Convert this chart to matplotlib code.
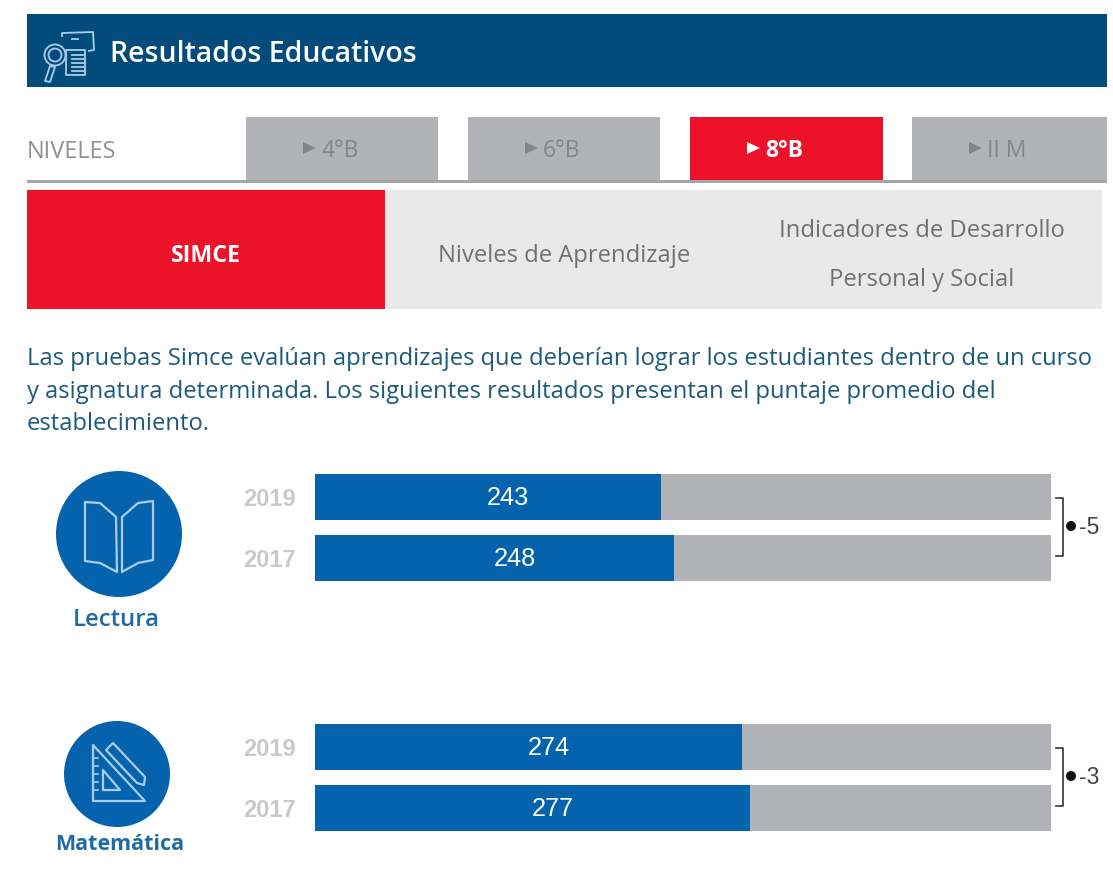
import matplotlib
matplotlib.use("Agg")
import matplotlib.pyplot as plt
from matplotlib.patches import Circle, Polygon, Rectangle

W, H = 1113, 882

# data
subjects = ["Lectura", "Matemática"]
years = ["2019", "2017"]
lectura = [243, 248]
matematica = [274, 277]
deltas = ["-5", "-3"]
scale_min = 110.5
scale_max = 392.5

niveles = ["4°B", "6°B", "8°B", "II M"]
tabs = ["SIMCE", "Niveles de Aprendizaje", "Indicadores de Desarrollo\nPersonal y Social"]
parrafo = [
    "Las pruebas Simce evalúan aprendizajes que deberían lograr los estudiantes dentro de un curso",
    "y asignatura determinada. Los siguientes resultados presentan el puntaje promedio del",
    "establecimiento.",
]

NAVY = "#024b7b"
RED = "#ec1229"
GREY = "#b2b3b7"
LIGHT = "#e9e9e9"
BLUE = "#0563ae"
ICON = "#a9cde6"
TXT = ["Open Sans", "DejaVu Sans"]

fig = plt.figure(figsize=(W / 100, H / 100), dpi=100, facecolor="white")

# whole figure in pixels for the page furniture
bg = fig.add_axes([0, 0, 1, 1])
bg.set_xlim(0, W)
bg.set_ylim(H, 0)
bg.axis("off")


def box(x0, y0, x1, y1, color):
    bg.add_patch(Rectangle((x0, y0), x1 - x0, y1 - y0, fc=color, ec="none"))


def outline(pts, color=ICON, lw=1.6, closed=True):
    bg.add_patch(Polygon(pts, closed=closed, fc="none", ec=color, lw=lw, joinstyle="round"))


# header
box(27, 14, 1107, 87, NAVY)
bg.text(110, 54, "Resultados Educativos", color="white", fontsize=20.5, family=TXT,
        weight="semibold", va="center", ha="left")
outline([(62, 37), (62, 33), (93, 32), (94, 50), (88, 51)], lw=1.3, closed=False)
bg.plot([72, 78], [38.5, 38.5], color=ICON, lw=1.3)
bg.add_patch(Circle((55, 55), 10.5, fc="none", ec=ICON, lw=1.3))
bg.add_patch(Circle((55, 55), 6.5, fc="none", ec=ICON, lw=1.3))
outline([(50, 66), (45, 81), (50, 82), (55, 67)], lw=1.3)
outline([(66, 50), (85, 50), (85, 75), (66, 75)], lw=1.3)
for yy in [55, 59, 63, 67, 71]:
    bg.plot([72, 84], [yy, yy], color=ICON, lw=1.3)

# niveles row
bg.text(27, 152, "NIVELES", color="#8f9093", fontsize=17, family=TXT, va="center")
box(27, 180, 1107, 183, "#a5a6a8")
tab_x = [(246, 438), (468, 660), (690, 883), (912, 1107)]
for name, (x0, x1) in zip(niveles, tab_x):
    sel = name == "8°B"
    col = "white" if sel else "#848589"
    box(x0, 117, x1, 180, RED if sel else GREY)
    bg.add_patch(Polygon([(x0 + 57, 142), (x0 + 70, 148), (x0 + 57, 154)], fc=col, ec="none"))
    bg.text(x0 + 75, 151, name, color=col, fontsize=16.5, family=TXT,
            weight="bold" if sel else "normal", ha="left", va="center")

# SIMCE tabs
box(385, 190, 1102, 309, LIGHT)
box(27, 190, 385, 309, RED)
bg.text(206, 256, tabs[0], color="white", fontsize=16.7, family=TXT, weight="bold",
        ha="center", va="center")
bg.text(564, 256, tabs[1], color="#6f7073", fontsize=17.1, family=TXT, ha="center", va="center")
top, bottom = tabs[2].split("\n")
bg.text(922, 231, top, color="#6f7073", fontsize=17.1, family=TXT, ha="center", va="center")
bg.text(922, 280, bottom, color="#6f7073", fontsize=17.1, family=TXT, ha="center", va="center")

# paragraph
for yy, line in zip([359, 392, 424], parrafo):
    bg.text(27, yy, line, color="#1c5a7c", fontsize=17.1, family=TXT, va="center")

# book icon
bg.add_patch(Circle((119, 534), 63, fc=BLUE, ec="none"))
outline([(85, 502), (100, 503), (116, 517), (117, 572), (100, 563), (85, 561)])
outline([(153, 501), (138, 503), (122, 517), (122, 572), (138, 563), (153, 560)])
bg.text(116, 620, subjects[0], color="#1f6aa5", fontsize=17.2, family=TXT, weight="semibold",
        ha="center", va="center")

# ruler and pencil icon
bg.add_patch(Circle((117, 774), 53, fc=BLUE, ec="none"))
outline([(93, 745), (93, 801), (145, 801)])
outline([(103, 770), (103, 790), (120, 790)])
outline([(106, 750), (113, 743), (145, 777), (144, 785), (137, 783)])
for yy in [758, 766, 774, 782, 790]:
    bg.plot([93, 98], [yy, yy], color=ICON, lw=1.2)
bg.text(120, 845, subjects[1], color="#1f6aa5", fontsize=15.5, family=TXT, weight="bold",
        ha="center", va="center")


def bars(y0, y1, values):
    ax = fig.add_axes([315 / W, 1 - y1 / H, 736 / W, (y1 - y0) / H])
    ax.patch.set_alpha(0)
    pos = range(len(values))
    ax.barh(pos, [scale_max - scale_min] * len(values), left=scale_min, height=0.75, color=GREY)
    ax.barh(pos, [v - scale_min for v in values], left=scale_min, height=0.75, color=BLUE)
    ax.set_xlim(scale_min, scale_max)
    ax.set_ylim(1.375, -0.375)
    ax.set_xticks([])
    ax.set_yticks(list(pos), years, color="#c9c9c9", fontsize=17, family="Liberation Sans",
                  weight="bold")
    ax.tick_params(axis="y", length=0, pad=13.5)
    for s in ax.spines.values():
        s.set_visible(False)
    # labels sit a bit right of the bar centre in the original
    for i, v in enumerate(values):
        ax.text((v + scale_min) / 2 + 7.7, i + 0.02, str(v), color="white", fontsize=18.3,
                family="Liberation Sans", ha="center", va="center")


bars(474, 581, lectura)
bars(724, 831, matematica)

# difference brackets
for (y0, y1, yd), d in zip([(498, 556, 526), (748, 806, 776)], deltas):
    bg.plot([1056, 1063, 1063, 1056], [y0, y0, y1, y1], color="#333333", lw=1.2)
    bg.add_patch(Circle((1071, yd), 5, fc="#111111", ec="none"))
    bg.text(1079, yd + 2, d, color="#444444", fontsize=16.5, family="Liberation Sans", va="center")

fig.savefig("out.png", dpi=100)
